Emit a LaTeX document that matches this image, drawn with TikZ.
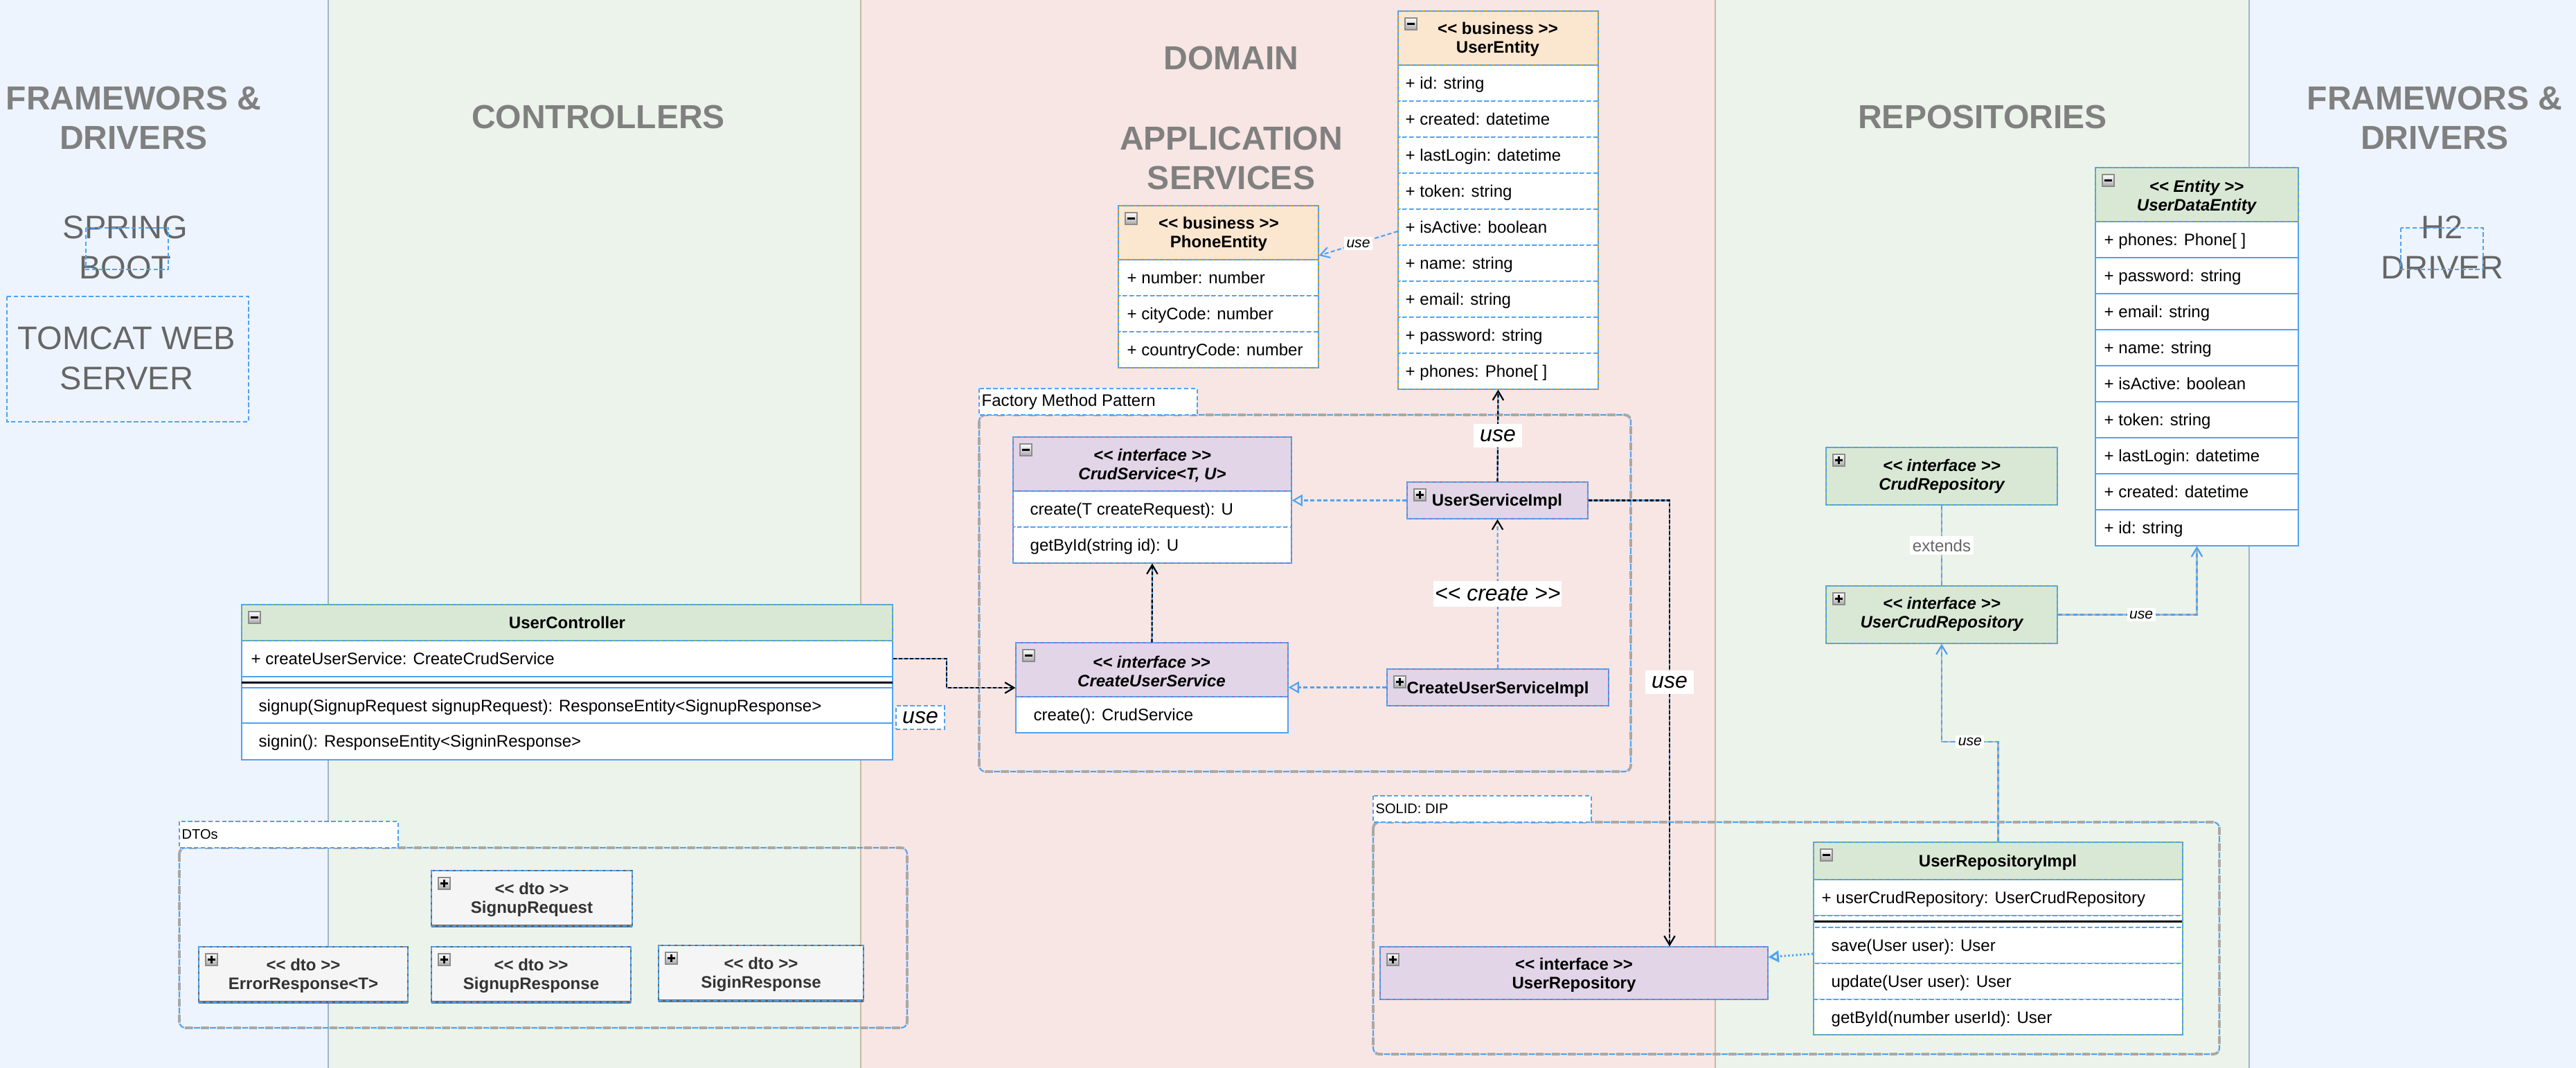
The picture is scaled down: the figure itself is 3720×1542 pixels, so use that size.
\documentclass[tikz,border=0pt]{standalone}
\usepackage{fontspec}
\setmainfont{Liberation Sans}
\usetikzlibrary{arrows.meta,fit}
\definecolor{laneB}{HTML}{EDF4FD}
\definecolor{laneG}{HTML}{ECF3EA}
\definecolor{laneP}{HTML}{F8E6E4}
\definecolor{laneLB}{HTML}{9FB3CA}
\definecolor{laneLT}{HTML}{C8B99F}
\definecolor{hdrG}{HTML}{D9E8D5}
\definecolor{hdrO}{HTML}{FBE6CF}
\definecolor{hdrP}{HTML}{E1D5E7}
\definecolor{hdrW}{HTML}{F5F5F5}
\definecolor{bdG}{HTML}{82B366}
\definecolor{bdO}{HTML}{D79B00}
\definecolor{bdP}{HTML}{9673A6}
\definecolor{bdW}{HTML}{666666}
\definecolor{dblue}{HTML}{4DA3F5}
\definecolor{ttlc}{HTML}{808080}
\definecolor{drvc}{HTML}{666666}
\definecolor{dtotxt}{HTML}{333333}
\definecolor{grpgray}{HTML}{A8A8A8}
\definecolor{gconnc}{HTML}{B3B3B3}
\definecolor{icnb}{HTML}{8C8C8C}
\definecolor{icnf}{HTML}{A9A9A9}
\newcommand\pxA{\fontsize{6.83pt}{7.68pt}\selectfont}
\newcommand\pxS{\fontsize{5.7pt}{6.5pt}\selectfont}
\newcommand\pxU{\fontsize{6pt}{7pt}\selectfont}
\newcommand\pxC{\fontsize{9.1pt}{10pt}\selectfont}
\newcommand\pxT{\fontsize{13.66pt}{16.2pt}\selectfont}
\newcommand\pxR{\fontsize{13.37pt}{16.6pt}\selectfont}
\tikzset{
  bdash/.style={draw=dblue, line width=0.6pt, dash pattern=on 1.8pt off 1pt},
  rowdash/.style={fill=white, draw=dblue, line width=0.55pt, dash pattern=on 1.8pt off 1pt},
  rowsolid/.style={fill=white, draw=dblue, line width=0.6pt},
  rowt/.style={anchor=west, inner sep=0pt, font=\pxA, text height=5.6pt, text depth=1pt},
  hdrt/.style={align=center, inner sep=0pt, font=\pxA\bfseries},
  hdri/.style={align=center, inner sep=0pt, font=\pxA\bfseries\itshape},
  hdrone/.style={inner sep=0pt, font=\pxA\bfseries, text height=5.6pt, text depth=1pt},
  ttl/.style={align=center, inner sep=0pt, font=\pxT\bfseries, text=ttlc},
  drv/.style={align=center, inner sep=0pt, font=\pxR, text=drvc},
  clsfit/.style={inner sep=0pt},
  lblB/.style={fill=white, inner xsep=2.6pt, inner ysep=2.4pt, font=\pxC\itshape},
  lblC/.style={fill=white, inner xsep=0.5pt, inner ysep=2.4pt, font=\pxC\itshape},
  lblS/.style={fill=white, inner sep=1pt, font=\pxU\itshape},
  lblE/.style={fill=white, inner sep=1.2pt, font=\pxA, text=drvc},
  grplbl/.style={anchor=west, inner sep=0pt, font=\pxS},
  barb/.style={-{Straight Barb[length=3.7pt,width=4.4pt]}},
  barbk/.style={-{Straight Barb[length=3.7pt,width=4.4pt,color=black]}},
  tri/.style={-{Triangle[open,length=4.3pt,width=4.8pt]}},
  bconn/.style={draw=dblue, line width=0.6pt, dash pattern=on 1.7pt off 1pt},
  kconn/.style={draw=dblue, line width=0.6pt, postaction={draw=black, dash pattern=on 1.4pt off 0.9pt}},
  gconn/.style={draw=gconnc, line width=0.6pt, postaction={draw=dblue, dash pattern=on 1.7pt off 1.4pt}},
  dotconn/.style={draw=dblue, line width=0.85pt, dash pattern=on 0.7pt off 0.9pt},
}
\newcommand\clshdr[6]{%
  \fill[#5] (#1,#2) rectangle (#3,#4);
  \draw[line width=0.6pt, #6] (#1,#2) rectangle (#3,#4);
  \draw[bdash] (#1,#2) rectangle (#3,#4);}
\newcommand\clsoutl[5]{%
  \draw[line width=0.6pt, #5] (#1,#2) rectangle (#3,#4);
  \draw[bdash] (#1,#2) rectangle (#3,#4);}
\newcommand\clsicon[3]{%
  \draw[draw=icnb, line width=0.5pt, top color=white, bottom color=icnf] (#1+10,#2+10) rectangle (#1+27,#2+27);
  \draw[line width=0.7pt] (#1+13,#2+18.5) -- (#1+24,#2+18.5);
  \ifnum#3=1 \draw[line width=0.7pt] (#1+18.5,#2+13) -- (#1+18.5,#2+24);\fi}
\newcommand\grpbox[4]{%
  \draw[draw=grpgray, line width=1.1pt, dash pattern=on 3.3pt off 3.3pt, rounded corners=2.5pt] (#1,#2) rectangle (#3,#4);
  \draw[draw=dblue, line width=0.6pt, dash pattern=on 2.5pt off 4.1pt, dash phase=2.9pt, rounded corners=2.5pt] (#1,#2) rectangle (#3,#4);}
\newcommand\dtobox[6]{%
  \clshdr{#1}{#2}{#3}{#4}{hdrW}{bdW}
  \draw[bdW, line width=1.2pt] (#1,#4) -- (#3,#4);
  \draw[bdash] (#1,#4) -- (#3,#4);
  \clsicon{#1}{#2}{1}
  \node[hdrt, text=dtotxt] (#5H) at ({(#1+#3)/2},{(#2+#4)/2+2}) {<{}< dto >{}>\\#6};
  \node[clsfit, fit={(#1,#2)(#3,#4)}] (#5) {};}
\begin{document}
\begin{tikzpicture}[x=0.01cm, y=-0.01cm]
\useasboundingbox (0,0) rectangle (3720,1542);
% lanes
\fill[laneB] (0,0) rectangle (474,1542);
\fill[laneG] (474,0) rectangle (1243,1542);
\fill[laneP] (1243,0) rectangle (2477,1542);
\fill[laneG] (2477,0) rectangle (3248,1542);
\fill[laneB] (3248,0) rectangle (3720,1542);
\draw[laneLB, line width=0.4pt] (474,0) -- (474,1542) (3248,0) -- (3248,1542);
\draw[laneLT, line width=0.4pt] (1243,0) -- (1243,1542) (2477,0) -- (2477,1542);
% titles
\node[ttl] (tFD1) at (193,170) {FRAMEWORS \&\\DRIVERS};
\node[ttl] (tCtrl) at (864,169) {CONTROLLERS};
\node[ttl] (tDom) at (1778,84) {DOMAIN};
\node[ttl] (tApp) at (1778,228) {APPLICATION\\SERVICES};
\node[ttl] (tRepo) at (2863,169) {REPOSITORIES};
\node[ttl] (tFD2) at (3516,170) {FRAMEWORS \&\\DRIVERS};
\node[drv] (tSpring) at (181,357) {SPRING\\BOOT};
\draw[bdash] (124,329) rectangle (243,389);
\node[drv] (tTomcat) at (183,517) {TOMCAT WEB\\SERVER};
\draw[bdash] (10,428) rectangle (359,609);
\node[drv] (tH2) at (3527,357) {H2\\DRIVER};
\draw[bdash] (3467,329) rectangle (3586,389);
% groups
\grpbox{1414}{599}{2355}{1114}
\draw[bdash, fill=white] (1414,561) rectangle (1729,599);
\node[grplbl, font=\pxA] (gFac) at (1417,580) {Factory Method Pattern};
\grpbox{259}{1224}{1310}{1484}
\draw[bdash, fill=white] (259,1186) rectangle (575,1224);
\node[grplbl] (gDto) at (262,1205) {DTOs};
\grpbox{1983}{1187}{3205}{1522}
\draw[bdash, fill=white] (1983,1149) rectangle (2298,1187);
\node[grplbl] (gSolid) at (1986,1168) {SOLID: DIP};
% PhoneEntity
\foreach \i in {0,1,2} \draw[rowdash] (1615,375+52*\i) rectangle (1904,427+52*\i);
\clshdr{1615}{297}{1904}{375}{hdrO}{bdO}
\clsoutl{1615}{297}{1904}{531}{bdO}
\clsicon{1615}{297}{0}
\node[hdrt] (peH) at (1760,338) {<{}< business >{}>\\PhoneEntity};
\foreach \t [count=\i from 0] in {+ number: number, + cityCode: number, + countryCode: number}
  \node[rowt] (pe\i) at (1627,401+52*\i) {\t};
\node[clsfit, fit={(1615,297)(1904,531)}] (PE) {};
% UserEntity
\foreach \i in {0,...,8} \draw[rowdash] (2019,94+52*\i) rectangle (2308,146+52*\i);
\clshdr{2019}{16}{2308}{94}{hdrO}{bdO}
\clsoutl{2019}{16}{2308}{562}{bdO}
\clsicon{2019}{16}{0}
\node[hdrt] (ueH) at (2163,57) {<{}< business >{}>\\UserEntity};
\foreach \t [count=\i from 0] in {+ id: string, + created: datetime, + lastLogin: datetime, + token: string, + isActive: boolean, + name: string, + email: string, + password: string, + phones: Phone[ ]}
  \node[rowt] (ue\i) at (2029,120+52*\i) {\t};
\node[clsfit, fit={(2019,16)(2308,562)}] (UE) {};
% UserDataEntity
\foreach \i in {0,...,8} \draw[rowsolid] (3026,320+52*\i) rectangle (3319,372+52*\i);
\clshdr{3026}{242}{3319}{320}{hdrG}{bdG}
\clsicon{3026}{242}{0}
\node[hdri] (udeH) at (3172,285) {<{}< Entity >{}>\\UserDataEntity};
\foreach \t [count=\i from 0] in {+ phones: Phone[ ], + password: string, + email: string, + name: string, + isActive: boolean, + token: string, + lastLogin: datetime, + created: datetime, + id: string}
  \node[rowt] (ude\i) at (3038,346+52*\i) {\t};
\node[clsfit, fit={(3026,242)(3319,788)}] (UDE) {};
% CrudService
\foreach \i in {0,1} \draw[rowdash] (1463,709+52*\i) rectangle (1865,761+52*\i);
\clshdr{1463}{631}{1865}{709}{hdrP}{bdP}
\clsoutl{1463}{631}{1865}{813}{bdP}
\clsicon{1463}{631}{0}
\node[hdri] (csH) at (1664,672) {<{}< interface >{}>\\CrudService<T, U>};
\node[rowt] (cs0) at (1487,735) {create(T createRequest): U};
\node[rowt] (cs1) at (1487,787) {getById(string id): U};
\node[clsfit, fit={(1463,631)(1865,813)}] (CS) {};
% CreateUserService
\draw[rowsolid] (1467,1006) rectangle (1860,1058);
\clshdr{1467}{928}{1860}{1006}{hdrP}{bdP}
\clsicon{1467}{928}{0}
\node[hdri] (cusH) at (1663,969) {<{}< interface >{}>\\CreateUserService};
\node[rowt] (cus0) at (1492,1032) {create(): CrudService};
\node[clsfit, fit={(1467,928)(1860,1058)}] (CUS) {};
% UserServiceImpl
\clshdr{2032}{696}{2293}{749}{hdrP}{bdP}
\clsicon{2032}{696}{1}
\node[hdrone] (usiH) at (2162,722) {UserServiceImpl};
\node[clsfit, fit={(2032,696)(2293,749)}] (USI) {};
% CreateUserServiceImpl
\clshdr{2003}{966}{2323}{1019}{hdrP}{bdP}
\clsicon{2003}{966}{1}
\node[hdrone] (cusiH) at (2163,993) {CreateUserServiceImpl};
\node[clsfit, fit={(2003,966)(2323,1019)}] (CUSI) {};
% CrudRepository
\clshdr{2637}{646}{2971}{729}{hdrG}{bdG}
\clsicon{2637}{646}{1}
\node[hdri] (crH) at (2804,688) {<{}< interface >{}>\\CrudRepository};
\node[clsfit, fit={(2637,646)(2971,729)}] (CR) {};
% UserCrudRepository
\clshdr{2637}{846}{2971}{929}{hdrG}{bdG}
\clsicon{2637}{846}{1}
\node[hdri] (ucrH) at (2804,887) {<{}< interface >{}>\\UserCrudRepository};
\node[clsfit, fit={(2637,846)(2971,929)}] (UCR) {};
% UserRepository
\clshdr{1993}{1367}{2553}{1443}{hdrP}{bdP}
\clsicon{1993}{1367}{1}
\node[hdrt] (urH) at (2273,1408) {<{}< interface >{}>\\UserRepository};
\node[clsfit, fit={(1993,1367)(2553,1443)}] (UR) {};
% UserRepositoryImpl
\draw[rowdash] (2619,1270) rectangle (3152,1322);
\draw[rowdash] (2619,1322) rectangle (3152,1339);
\draw[rowdash] (2619,1339) rectangle (3152,1391);
\draw[rowdash] (2619,1391) rectangle (3152,1443);
\draw[rowdash] (2619,1443) rectangle (3152,1494);
\draw[line width=0.85pt] (2619,1330) -- (3152,1330);
\clshdr{2619}{1216}{3152}{1270}{hdrG}{bdG}
\clsoutl{2619}{1216}{3152}{1494}{bdG}
\clsicon{2619}{1216}{0}
\node[hdrone] (uriH) at (2885,1243) {UserRepositoryImpl};
\node[rowt] (uri0) at (2630,1296) {+ userCrudRepository: UserCrudRepository};
\node[rowt] (uri1) at (2644,1365) {save(User user): User};
\node[rowt] (uri2) at (2644,1417) {update(User user): User};
\node[rowt] (uri3) at (2644,1469) {getById(number userId): User};
\node[clsfit, fit={(2619,1216)(3152,1494)}] (URI) {};
% UserController
\draw[rowsolid] (349,925) rectangle (1289,977);
\draw[rowsolid] (349,977) rectangle (1289,993);
\draw[rowsolid] (349,993) rectangle (1289,1044);
\draw[rowsolid] (349,1044) rectangle (1289,1097);
\draw[line width=0.85pt] (349,985) -- (1289,985);
\clshdr{349}{873}{1289}{925}{hdrG}{bdG}
\clsicon{349}{873}{0}
\node[hdrone] (ucH) at (819,899) {UserController};
\node[rowt] (uc0) at (362,951) {+ createUserService: CreateCrudService};
\node[rowt] (uc1) at (373,1019) {signup(SignupRequest signupRequest): ResponseEntity<SignupResponse>};
\node[rowt] (uc2) at (373,1070) {signin(): ResponseEntity<SigninResponse>};
\node[clsfit, fit={(349,873)(1289,1097)}] (UC) {};
% DTOs
\dtobox{623}{1257}{913}{1337}{SReq}{SignupRequest}
\dtobox{287}{1367}{589}{1447}{ERes}{ErrorResponse<T>}
\dtobox{623}{1367}{911}{1447}{SRes}{SignupResponse}
\dtobox{951}{1365}{1247}{1445}{SiRes}{SiginResponse}
% connectors
\draw[bconn, barb] (UE.west |- 0,334) -- node[lblS] (lUsePE) {use} (PE.east |- 0,369);
\draw[bconn, tri] (USI.west) -- (CS.east |- USI.west);
\draw[bconn, tri] (CUSI.west) -- (CUS.east |- CUSI.west);
\draw[kconn, barb] (CUS.north) -- (CS.south);
\draw[bconn, barbk] (CUSI.north) -- node[lblC] (lCreate) {<{}< create >{}>} (USI.south);
\draw[kconn, barb] (USI.north) -- node[lblB] (lUseUE) {use} (UE.south);
\draw[kconn, barb] (USI.east) -| node[lblB, pos=0.704] (lUseUR) {use} (2411,0 |- UR.north);
\draw[kconn, barb] (UC.east |- 0,951) -| (1367,0 |- CUS.west) -- (CUS.west);
\node[lblB, draw=dblue, line width=0.6pt, dash pattern=on 1.8pt off 1pt] (lUseUC) at (1329,1036) {use};
\draw[dotconn, tri] (URI.west |- 0,1377) -- (UR.east |- 0,1382);
\draw[gconn, barb] (URI.north) |- node[lblS, pos=0.75] (lUseUCR) {use} (UCR.south |- 0,1071) -- (UCR.south);
\draw[gconn, barb] (UCR.east) -| node[lblS, pos=0.3] (lUseUDE) {use} (UDE.south);
\draw[gconn] (CR.south) -- node[lblE] (lExt) {extends} (UCR.north);
\end{tikzpicture}
\end{document}
